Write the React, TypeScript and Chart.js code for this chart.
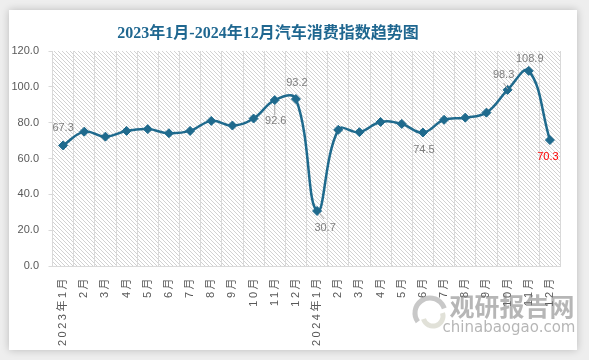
import React, { useEffect, useRef } from 'react';
import { Chart, registerables } from 'chart.js';

Chart.register(...registerables);

const monthLabels: string[] = [
  '2023年1月', '2月', '3月', '4月', '5月', '6月', '7月', '8月', '9月', '10月', '11月', '12月',
  '2024年1月', '2月', '3月', '4月', '5月', '6月', '7月', '8月', '9月', '10月', '11月', '12月',
];

const consumptionIndex: number[] = [
  67.3, 75.0, 72.2, 75.4, 76.4, 74.1, 75.4, 81.0, 78.4, 82.3, 92.6, 93.2,
  30.7, 76.0, 74.7, 80.4, 79.3, 74.5, 81.6, 82.8, 85.6, 98.3, 108.9, 70.3,
];

const yTickValues: number[] = [0, 20, 40, 60, 80, 100, 120];

const labeledPoints: number[] = [0, 10, 11, 12, 17, 21, 22, 23];

const chartTitle = '2023年1月-2024年12月汽车消费指数趋势图';

// label placement styles (offsets from the point in px) — kept separate from data
const labelStyle: Record<number, { dx: number; dy: number; color?: string; leader?: [number, number, number, number] }> = {
  0: { dx: 0, dy: -17 },
  10: { dx: 1, dy: 21, leader: [0, 5, 0, 15] },
  11: { dx: 1, dy: -16 },
  12: { dx: 8, dy: 17, leader: [2, 2, 7, 8] },
  17: { dx: 1, dy: 17 },
  21: { dx: -4, dy: -15, leader: [0, -1, -4, -7] },
  22: { dx: 1, dy: -12 },
  23: { dx: -2, dy: 17, color: '#ff0000' },
};

const LINE_COLOR = '#1f6a8d';

function makeHatch(): CanvasPattern | string {
  const p = document.createElement('canvas');
  p.width = 4;
  p.height = 4;
  const c = p.getContext('2d');
  if (!c) return '#ffffff';
  c.fillStyle = '#ffffff';
  c.fillRect(0, 0, 4, 4);
  c.fillStyle = '#d2d2d2';
  for (let i = 0; i < 4; i++) c.fillRect(i, i, 1, 1);
  const pat = c.createPattern(p, 'repeat');
  return pat || '#ffffff';
}

const decorPlugin = {
  id: 'decor',
  beforeDraw(chart: any) {
    const { ctx, chartArea } = chart;
    ctx.save();
    ctx.fillStyle = makeHatch();
    ctx.fillRect(chartArea.left, chartArea.top, chartArea.right - chartArea.left, chartArea.bottom - chartArea.top);
    ctx.restore();

    // title
    ctx.save();
    ctx.font = 'bold 16px "Liberation Serif", "Noto Sans CJK SC", serif';
    ctx.fillStyle = '#1f6790';
    ctx.textAlign = 'center';
    ctx.textBaseline = 'middle';
    ctx.fillText(chartTitle, 259, 24);
    ctx.restore();

    const sx: any = chart.scales.x;
    if (sx && !sx.__spaced) {
      const orig = sx.drawLabels.bind(sx);
      sx.drawLabels = (area: any) => {
        const c = chart.ctx;
        c.save();
        (c as any).letterSpacing = '2.5px';
        orig(area);
        c.restore();
      };
      sx.__spaced = true;
    }
  },
  afterDatasetsDraw(chart: any) {
    const { ctx } = chart;
    const meta = chart.getDatasetMeta(0);
    ctx.save();
    ctx.font = '11px "Liberation Sans", Arial, sans-serif';
    ctx.textAlign = 'center';
    ctx.textBaseline = 'middle';
    labeledPoints.forEach((i) => {
      const el = meta.data[i];
      if (!el) return;
      const st = labelStyle[i] || { dx: 0, dy: -15 };
      if (st.leader) {
        ctx.strokeStyle = '#a6a6a6';
        ctx.lineWidth = 1;
        ctx.beginPath();
        ctx.moveTo(el.x + st.leader[0], el.y + st.leader[1]);
        ctx.lineTo(el.x + st.leader[2], el.y + st.leader[3]);
        ctx.stroke();
      }
      ctx.fillStyle = st.color || '#7f7f7f';
      ctx.fillText(consumptionIndex[i].toFixed(1), el.x + st.dx, el.y + st.dy);
    });
    ctx.restore();
  },
  afterDraw(chart: any) {
    const { ctx } = chart;
    ctx.save();
    ctx.globalAlpha = 0.55;
    ctx.strokeStyle = '#9a9a9a';
    ctx.lineWidth = 5;
    ctx.beginPath();
    ctx.arc(421, 303, 15, Math.PI * 0.8, Math.PI * 1.9);
    ctx.stroke();
    ctx.strokeStyle = '#c8c8b8';
    ctx.beginPath();
    ctx.arc(424, 306, 10, Math.PI * 1.9, Math.PI * 0.9);
    ctx.stroke();
    ctx.fillStyle = '#7a7a7a';
    ctx.textAlign = 'center';
    ctx.textBaseline = 'middle';
    ctx.font = 'bold 25px "Noto Sans CJK SC", sans-serif';
    ctx.fillText('观研报告网', 503, 296);
    ctx.font = '15px "DejaVu Sans", sans-serif';
    ctx.fillText('chinabaogao.com', 500, 318);
    ctx.restore();
  },
};

export default function App() {
  const canvasRef = useRef<HTMLCanvasElement | null>(null);

  useEffect(() => {
    if (!canvasRef.current) return;
    const chart = new Chart(canvasRef.current, {
      type: 'line',
      data: {
        labels: monthLabels,
        datasets: [
          {
            data: consumptionIndex,
            borderColor: LINE_COLOR,
            backgroundColor: LINE_COLOR,
            borderWidth: 2.5,
            tension: 0.42,
            pointStyle: 'rectRot',
            pointRadius: 4.5,
            pointBorderWidth: 1,
            pointBackgroundColor: LINE_COLOR,
            pointBorderColor: LINE_COLOR,
            fill: false,
          },
        ],
      },
      options: {
        animation: false,
        responsive: false,
        maintainAspectRatio: false,
        layout: { padding: { top: 41, right: 16.5, left: 0, bottom: 0 } },
        plugins: {
          legend: { display: false },
          title: { display: false },
          tooltip: { enabled: false },
        },
        scales: {
          x: {
            type: 'category',
            offset: true,
            grid: { display: true, offset: true, color: '#d9d9d9', drawTicks: false },
            border: { display: true, color: '#d9d9d9' },
            ticks: {
              autoSkip: false,
              minRotation: 90,
              maxRotation: 90,
              padding: 10,
              color: '#595959',
              font: { size: 11, family: '"Liberation Sans", "Noto Sans CJK SC", sans-serif' },
            },
            afterFit: (scale: any) => { scale.height = 84; },
          },
          y: {
            min: 0,
            max: 120,
            afterBuildTicks: (scale: any) => { scale.ticks = yTickValues.map((v) => ({ value: v })); },
            grid: { drawOnChartArea: false, drawTicks: true, tickLength: 4, color: '#d9d9d9' },
            border: { display: true, color: '#d9d9d9' },
            ticks: {
              padding: 9.5,
              color: '#595959',
              font: { size: 11, family: '"Liberation Sans", Arial, sans-serif' },
              callback: (v: any) => Number(v).toFixed(1),
            },
            afterFit: (scale: any) => { scale.width = 43.5; },
          },
        },
      },
      plugins: [decorPlugin],
    });
    return () => chart.destroy();
  }, []);

  return (
    <div style={{ position: 'fixed', left: 0, top: 0, width: 589, height: 360, background: '#eeeeee', overflow: 'hidden' }}>
      <div
        style={{
          position: 'absolute',
          left: 9,
          top: 10,
          width: 568,
          height: 340,
          background: '#ffffff',
          boxShadow: '0 0 8px rgba(0,0,0,0.22)',
        }}
      >
        <canvas ref={canvasRef} width={568} height={340} style={{ display: 'block', width: 568, height: 340 }} />
      </div>
    </div>
  );
}
